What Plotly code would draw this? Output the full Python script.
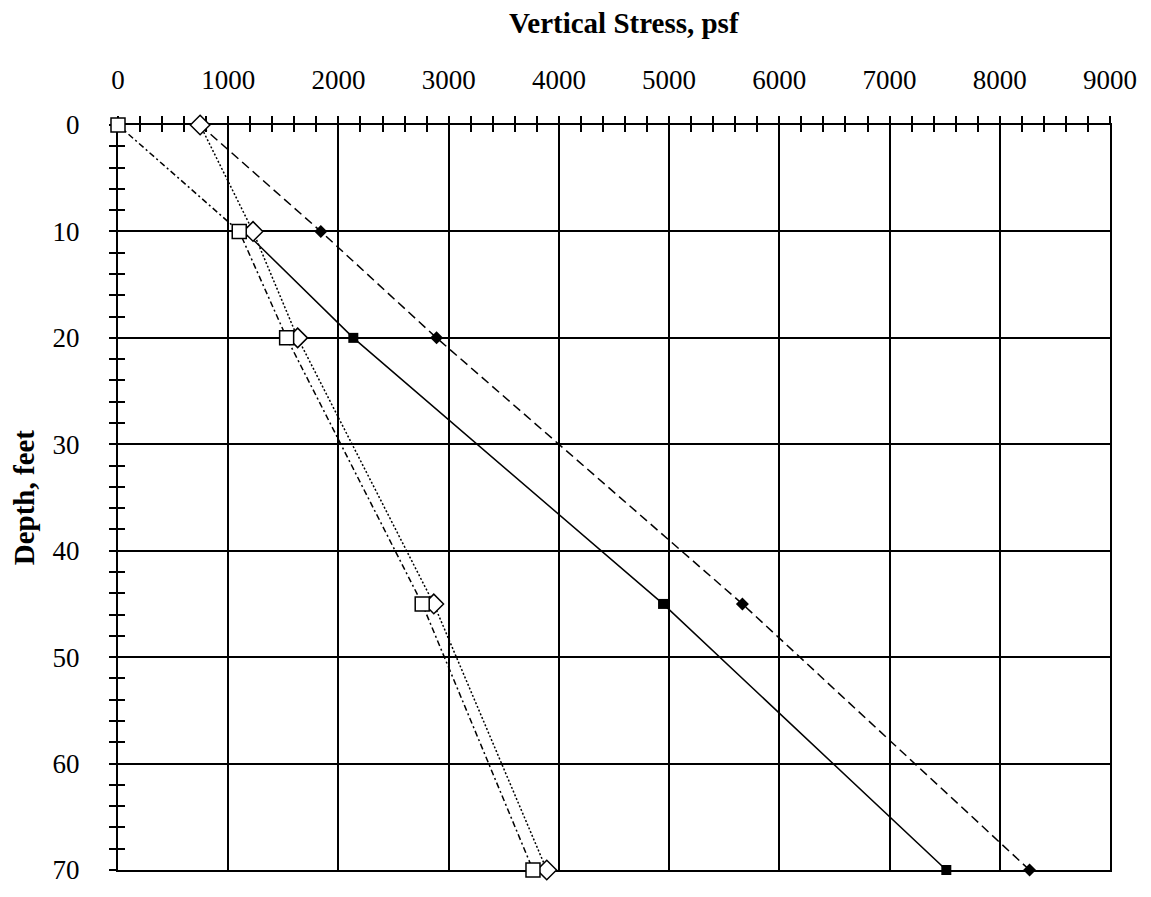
import plotly.graph_objects as go

# Depths (feet) and vertical stress (psf) for each profile
depth_sq_open = [0, 10, 20, 45, 70]
stress_sq_open = [0, 1100, 1530, 2760, 3765]

depth_dia_open = [0, 10, 20, 45, 70]
stress_dia_open = [745, 1225, 1630, 2865, 3890]

depth_dia_fill = [0, 10, 20, 45, 70]
stress_dia_fill = [745, 1840, 2890, 5665, 8270]

depth_sq_fill = [10, 20, 45, 70]
stress_sq_fill = [1150, 2135, 4945, 7515]

x_ticks = [0, 1000, 2000, 3000, 4000, 5000, 6000, 7000, 8000, 9000]
y_ticks = [0, 10, 20, 30, 40, 50, 60, 70]

SERIF = "Liberation Serif"
INK = "black"

fig = go.Figure()

fig.add_trace(go.Scatter(
    x=stress_sq_fill, y=depth_sq_fill, mode="lines+markers", cliponaxis=False,
    line=dict(color=INK, width=1.5, dash="solid"),
    marker=dict(symbol="square", size=10, color=INK),
    showlegend=False))

fig.add_trace(go.Scatter(
    x=stress_dia_fill, y=depth_dia_fill, mode="lines+markers", cliponaxis=False,
    line=dict(color=INK, width=1.5, dash="9px,5px"),
    marker=dict(symbol="diamond", size=10, color=INK),
    showlegend=False))

fig.add_trace(go.Scatter(
    x=stress_dia_open, y=depth_dia_open, mode="lines+markers", cliponaxis=False,
    line=dict(color=INK, width=1.5, dash="2px,2px"),
    marker=dict(symbol="diamond", size=15, color="white",
                line=dict(color=INK, width=1.5)),
    showlegend=False))

fig.add_trace(go.Scatter(
    x=stress_sq_open, y=depth_sq_open, mode="lines+markers", cliponaxis=False,
    line=dict(color=INK, width=1.5, dash="6px,3px,2px,3px"),
    marker=dict(symbol="square", size=14, color="white",
                line=dict(color=INK, width=1.5)),
    showlegend=False))

# Second pair of axes carrying inward-facing ticks so that ticks cross the axis line
fig.add_trace(go.Scatter(x=[None], y=[None], xaxis="x2", yaxis="y2",
                         showlegend=False, hoverinfo="skip"))

tick_font = dict(family=SERIF, size=27, color=INK)
title_font = dict(family=SERIF, size=29, color=INK)

fig.update_layout(
    width=1151, height=897,
    margin=dict(l=118, r=41, t=125, b=17),
    paper_bgcolor="white", plot_bgcolor="white",
    xaxis=dict(
        side="top", range=[0, 9000], tickmode="array",
        tickvals=x_ticks, ticktext=[str(v) for v in x_ticks],
        showgrid=True, gridcolor=INK, gridwidth=1.6,
        showline=True, linecolor=INK, linewidth=2, mirror=True,
        ticks="outside", ticklen=7, tickwidth=1.5, tickcolor=INK,
        minor=dict(dtick=200, ticks="outside", ticklen=7, tickwidth=1.5,
                   tickcolor=INK, showgrid=False),
        tickfont=tick_font, ticklabelstandoff=16,
        zeroline=False, layer="below traces",
    ),
    yaxis=dict(
        range=[70, 0], tickmode="array",
        tickvals=y_ticks, ticktext=[str(v) for v in y_ticks],
        showgrid=True, gridcolor=INK, gridwidth=1.6,
        showline=True, linecolor=INK, linewidth=2, mirror=True,
        ticks="outside", ticklen=7, tickwidth=1.5, tickcolor=INK,
        minor=dict(dtick=2, ticks="outside", ticklen=7, tickwidth=1.5,
                   tickcolor=INK, showgrid=False),
        tickfont=tick_font, ticklabelstandoff=24,
        zeroline=False, layer="below traces",
    ),
    xaxis2=dict(
        overlaying="x", side="top", range=[0, 9000], anchor="y2",
        showgrid=False, showticklabels=False, showline=False,
        ticks="inside", ticklen=7, tickwidth=1.5, tickcolor=INK, dtick=1000,
        minor=dict(dtick=200, ticks="inside", ticklen=7, tickwidth=1.5,
                   tickcolor=INK, showgrid=False),
        zeroline=False, layer="below traces",
    ),
    yaxis2=dict(
        overlaying="y", side="left", range=[70, 0], anchor="x2",
        showgrid=False, showticklabels=False, showline=False,
        ticks="inside", ticklen=7, tickwidth=1.5, tickcolor=INK, dtick=10,
        minor=dict(dtick=2, ticks="inside", ticklen=7, tickwidth=1.5,
                   tickcolor=INK, showgrid=False),
        zeroline=False, layer="below traces",
    ),
    annotations=[
        dict(text="<b>Vertical Stress, psf</b>",
             xref="paper", yref="paper", x=0.51, y=1.137,
             xanchor="center", yanchor="middle", showarrow=False,
             font=title_font),
        dict(text="<b>Depth, feet</b>", textangle=-90,
             xref="paper", yref="paper", x=-0.095, y=0.5,
             xanchor="center", yanchor="middle", showarrow=False,
             font=title_font),
    ],
)

fig.write_html("out.html")
